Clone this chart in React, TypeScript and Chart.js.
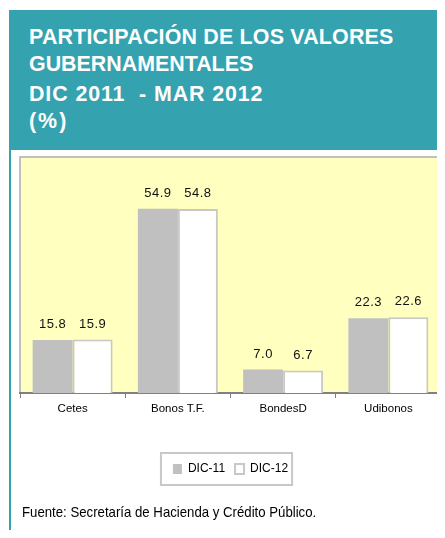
import React, { useEffect, useRef } from "react";
import { Chart, registerables } from "chart.js";

Chart.register(...registerables);

const categories = ["Cetes", "Bonos T.F.", "BondesD", "Udibonos"];
const seriesNames = ["DIC-11", "DIC-12"];
const dic11 = [15.8, 54.9, 7.0, 22.3];
const dic12 = [15.9, 54.8, 6.7, 22.6];
const titleLines = [
  "PARTICIPACIÓN DE LOS VALORES",
  "GUBERNAMENTALES",
  "DIC 2011  - MAR 2012",
  "(%)",
];
const footerText = "Fuente: Secretaría de Hacienda y Crédito Público.";

const FONT = '"Liberation Sans", Arial, sans-serif';
const TEAL = "#35A2B0";

const plotBgPlugin = {
  id: "plotBg",
  beforeDraw(chart: any) {
    const { ctx, chartArea: ca } = chart;
    ctx.save();
    ctx.fillStyle = "#FFFFC0";
    ctx.fillRect(ca.left - 1, ca.top - 2, ca.right - ca.left + 3, ca.bottom - ca.top + 2);
    ctx.strokeStyle = "#C0C0C0";
    ctx.lineWidth = 2;
    ctx.beginPath();
    ctx.moveTo(ca.left, ca.bottom);
    ctx.lineTo(ca.left, ca.top - 1);
    ctx.lineTo(ca.right + 1, ca.top - 1);
    ctx.lineTo(ca.right + 1, ca.bottom);
    ctx.stroke();
    ctx.restore();
  },
};

const valueLabelPlugin = {
  id: "valueLabels",
  afterDatasetsDraw(chart: any) {
    const { ctx } = chart;
    ctx.save();
    ctx.font = `13px ${FONT}`;
    (ctx as any).letterSpacing = "0.5px";
    ctx.fillStyle = "#111";
    ctx.textAlign = "center";
    ctx.textBaseline = "alphabetic";
    chart.data.datasets.forEach((ds: any, di: number) => {
      const meta = chart.getDatasetMeta(di);
      meta.data.forEach((el: any, i: number) => {
        ctx.fillText(Number(ds.data[i]).toFixed(1), el.x, el.y - 12);
      });
    });
    ctx.restore();
  },
};

const legendBoxPlugin = {
  id: "legendBox",
  afterDraw(chart: any) {
    const lg = chart.legend;
    if (!lg || !lg.legendHitBoxes || !lg.legendHitBoxes.length) return;
    const boxes = lg.legendHitBoxes;
    let l = Infinity, r = -Infinity, t = Infinity, b = -Infinity;
    boxes.forEach((h: any) => {
      l = Math.min(l, h.left);
      r = Math.max(r, h.left + h.width);
      t = Math.min(t, h.top);
      b = Math.max(b, h.top + h.height);
    });
    const cy = (t + b) / 2;
    const { ctx } = chart;
    ctx.save();
    ctx.strokeStyle = "#C8C8C8";
    ctx.lineWidth = 2;
    ctx.strokeRect(l - 12, cy - 16, r - l + 16, 32);
    ctx.restore();
  },
};

export default function App() {
  const ref = useRef<HTMLCanvasElement | null>(null);

  useEffect(() => {
    if (!ref.current) return;
    const chart = new Chart(ref.current, {
      type: "bar",
      data: {
        labels: categories,
        datasets: [
          {
            label: seriesNames[0],
            data: dic11,
            backgroundColor: "#C0C0C0",
            borderWidth: 0,
            categoryPercentage: 0.76,
            barPercentage: 1,
          },
          {
            label: seriesNames[1],
            data: dic12,
            backgroundColor: "#FFFFFF",
            borderColor: "#C8C8C8",
            borderWidth: 2,
            categoryPercentage: 0.76,
            barPercentage: 1,
          },
        ],
      },
      options: {
        responsive: false,
        animation: false,
        devicePixelRatio: 1,
        layout: { padding: { left: 20, right: 4, top: 8, bottom: 53 } },
        scales: {
          x: {
            grid: {
              offset: true,
              drawOnChartArea: false,
              drawTicks: true,
              tickLength: 5,
              color: "#808080",
              lineWidth: 1,
            },
            border: { color: "#808080", width: 2 },
            ticks: { font: { family: FONT, size: 11.5 }, color: "#000", padding: 4 },
            afterFit: (scale: any) => {
              scale.height = 60;
            },
          },
          y: { display: false, min: 0, max: 70 },
        },
        plugins: {
          legend: {
            position: "bottom",
            labels: {
              boxWidth: 9,
              boxHeight: 10,
              padding: 10,
              color: "#000",
              font: { family: FONT, size: 12 },
            },
          },
          tooltip: { enabled: false },
        },
      },
      plugins: [plotBgPlugin, valueLabelPlugin, legendBoxPlugin],
    } as any);
    return () => chart.destroy();
  }, []);

  const titleTops = [27, 54, 84, 111];
  const titleSpacing = [0.2, 0, 0.9, 2];

  return (
    <div style={{ position: "relative", width: 445, height: 538, margin: -8, overflow: "hidden", background: "#fff" }}>
      <div style={{ position: "absolute", left: 9, top: 10, width: 436, height: 140, background: TEAL }} />
      <div style={{ position: "absolute", left: 9, top: 150, width: 2, height: 388, background: TEAL }} />
      {titleLines.map((t, i) => (
        <div
          key={i}
          style={{
            position: "absolute",
            left: 29,
            top: titleTops[i],
            font: `bold 21.4px ${FONT}`,
            lineHeight: "21.4px",
            letterSpacing: `${titleSpacing[i]}px`,
            color: "#fff",
            whiteSpace: "pre",
          }}
        >
          {t}
        </div>
      ))}
      <canvas
        ref={ref}
        width={445}
        height={388}
        style={{ position: "absolute", left: 0, top: 150, width: 445, height: 388 }}
      />
      <div
        style={{
          position: "absolute",
          left: 22,
          top: 503,
          font: `15px ${FONT}`,
          lineHeight: "17px",
          color: "#000",
          whiteSpace: "pre",
          transform: "scaleX(0.88)",
          transformOrigin: "0 0",
        }}
      >
        {footerText}
      </div>
    </div>
  );
}
